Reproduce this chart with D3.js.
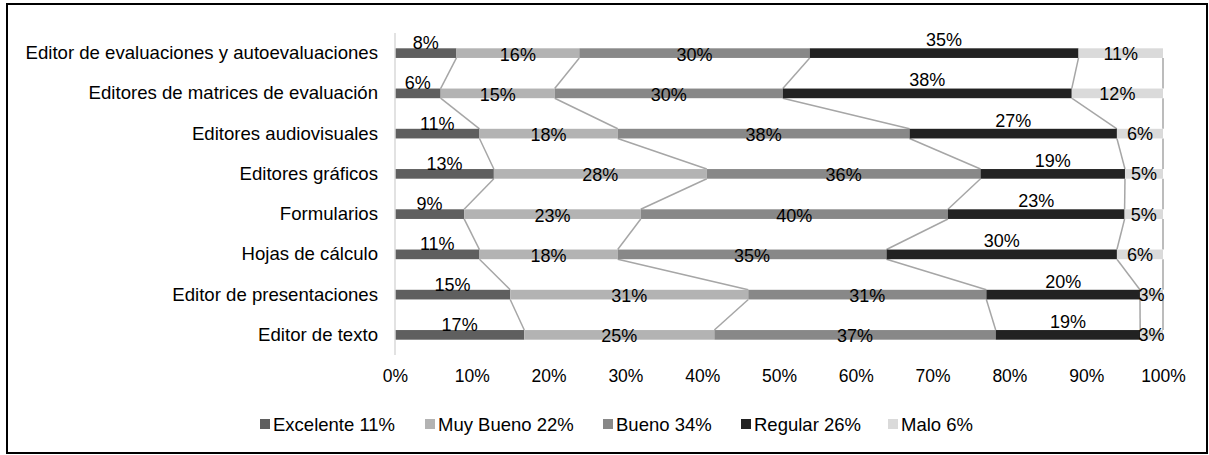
<!DOCTYPE html>
<html>
<head>
<meta charset="utf-8">
<script src="https://cdn.jsdelivr.net/npm/d3@7"></script>
<style>
  html, body { margin: 0; padding: 0; background: #fff; }
  svg { display: block; }
  text { font-family: "Liberation Sans", Arial, sans-serif; fill: #000; }
</style>
</head>
<body>
<svg id="chart" width="1209" height="455"></svg>
<script>
const categories = [
  "Editor de evaluaciones y autoevaluaciones",
  "Editores de matrices de evaluación",
  "Editores audiovisuales",
  "Editores gráficos",
  "Formularios",
  "Hojas de cálculo",
  "Editor de presentaciones",
  "Editor de texto"
];
const seriesNames = ["Excelente", "Muy Bueno", "Bueno", "Regular", "Malo"];
const legendLabels = ["Excelente 11%", "Muy Bueno 22%", "Bueno 34%", "Regular 26%", "Malo 6%"];
const excelente = [8, 6, 11, 13, 9, 11, 15, 17];
const muyBueno  = [16, 15, 18, 28, 23, 18, 31, 25];
const bueno     = [30, 30, 38, 36, 40, 35, 31, 37];
const regular   = [35, 38, 27, 19, 23, 30, 20, 19];
const malo      = [11, 12, 6, 5, 5, 6, 3, 3];
const xTicks = [0, 0.1, 0.2, 0.3, 0.4, 0.5, 0.6, 0.7, 0.8, 0.9, 1.0];

const colors = ["#5f5f5f", "#b3b3b3", "#888888", "#222222", "#dadada"];
const labelDy = [-10, 1.5, 1.5, -13, 0.5];

const seriesValues = [excelente, muyBueno, bueno, regular, malo];
const rows = categories.map((c, i) => {
  const r = { cat: c };
  seriesNames.forEach((s, k) => r[s] = seriesValues[k][i]);
  return r;
});

const stack = d3.stack().keys(seriesNames).offset(d3.stackOffsetExpand);
const stacked = stack(rows);

const svg = d3.select("#chart");

// outer border
svg.append("rect")
  .attr("x", 7).attr("y", 4).attr("width", 1200).attr("height", 449)
  .attr("fill", "none").attr("stroke", "#000").attr("stroke-width", 2);

const x = d3.scaleLinear().domain([0, 1]).range([395, 1163]);
const y = d3.scaleBand().domain(categories).range([33, 355])
  .paddingInner(0.76).paddingOuter(0.38);

// series lines
stacked.forEach((layer, k) => {
  for (let i = 0; i < categories.length - 1; i++) {
    const a = layer[i], b = layer[i + 1];
    svg.append("line")
      .attr("x1", x(a[1])).attr("y1", y(categories[i]) + y.bandwidth())
      .attr("x2", x(b[1])).attr("y2", y(categories[i + 1]))
      .attr("stroke", "#a6a6a6").attr("stroke-width", 1.5);
  }
});

// bars
const g = svg.append("g");
stacked.forEach((layer, k) => {
  g.selectAll(null).data(layer).enter().append("rect")
    .attr("x", d => x(d[0]))
    .attr("y", (d, i) => y(categories[i]))
    .attr("width", d => x(d[1]) - x(d[0]))
    .attr("height", y.bandwidth())
    .attr("fill", colors[k]);
});

// vertical axis line
svg.append("line")
  .attr("x1", x(0)).attr("x2", x(0)).attr("y1", 33).attr("y2", 355)
  .attr("stroke", "#d9d9d9").attr("stroke-width", 1.5);

// data labels
stacked.forEach((layer, k) => {
  g.selectAll(null).data(layer).enter().append("text")
    .attr("x", d => (x(d[0]) + x(d[1])) / 2)
    .attr("y", (d, i) => y(categories[i]) + y.bandwidth() / 2 + labelDy[k])
    .attr("text-anchor", "middle")
    .attr("dominant-baseline", "central")
    .style("font-size", "18px")
    .text((d, i) => seriesValues[k][i] + "%");
});

// y axis labels
const yAxis = d3.axisLeft(y).tickSize(0).tickPadding(0);
const ya = svg.append("g").attr("transform", "translate(378,0)").call(yAxis);
ya.select(".domain").remove();
ya.selectAll("text").style("font-size", "18.6px").attr("font-family", null).attr("fill", "#000");

// x axis labels
const xAxis = d3.axisBottom(x).tickValues(xTicks).tickSize(0).tickPadding(0)
  .tickFormat(d3.format(".0%"));
const xa = svg.append("g").attr("transform", "translate(0,370)").call(xAxis);
xa.select(".domain").remove();
xa.selectAll("text").style("font-size", "17.5px").attr("font-family", null).attr("fill", "#000");

// legend
const legendX = [260, 425, 603, 741, 888];
const leg = svg.append("g");
seriesNames.forEach((s, k) => {
  leg.append("rect").attr("x", legendX[k]).attr("y", 419).attr("width", 10).attr("height", 10)
    .attr("fill", colors[k]);
  leg.append("text")
    .attr("transform", `translate(${legendX[k] + 13},424)`)
    .attr("dominant-baseline", "central")
    .style("font-size", "18.5px")
    .text(legendLabels[k]);
});
</script>
</body>
</html>
